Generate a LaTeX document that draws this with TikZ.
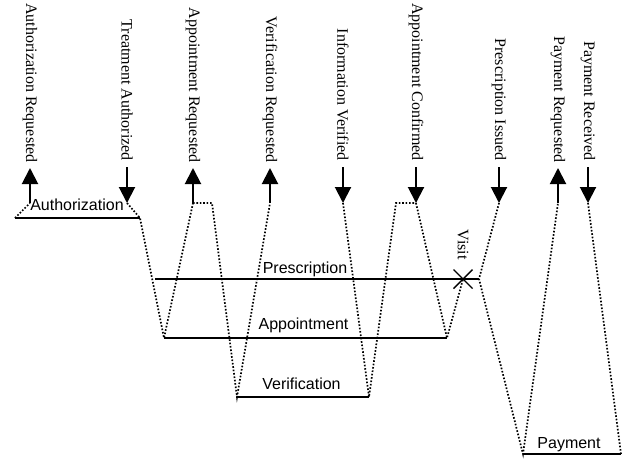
\documentclass[tikz,border=0pt]{standalone}
\usepackage{fontspec}
\setmainfont{Liberation Serif}
\setsansfont{Liberation Sans}
\usetikzlibrary{arrows.meta}

\begin{document}
\begin{tikzpicture}[x=1pt,y=-1pt,
        evlabel/.style={rotate=-90,anchor=east,inner sep=0pt,font=\fontsize{16}{19}\selectfont},
        evarrow/.style={line width=2pt,-{Triangle[width=16pt,length=16pt]}},
        bar/.style={line width=1.8pt},
        link/.style={line width=1.7pt,dash pattern=on 1.6pt off 1.8pt},
        barlabel/.style={anchor=base,inner sep=0pt,font=\sffamily\fontsize{16}{19}\selectfont}]
        \useasboundingbox (0,0) rectangle (623,459);
        % events going up
        \foreach \x/\id/\txt in {30/aureq/Authorization Requested,193/apreq/Appointment Requested,
            270/vreq/Verification Requested,558/pyreq/Payment Requested}
        {
            \node[evlabel] (\id) at (\x,163) {\txt};
            \coordinate (\id-p) at (\x,203);
            \coordinate (\id-t) at (\x,168);
            \draw[evarrow] (\id-p) -- (\id-t);
        }
        % events going down
        \foreach \x/\id/\txt in {127/trauth/Treatment Authorized,343/infver/Information Verified,
            416/apconf/Appointment Confirmed,499/prissue/Prescription Issued,588/pyrec/Payment Received}
        {
            \node[evlabel] (\id) at (\x,161) {\txt};
            \coordinate (\id-p) at (\x,203);
            \coordinate (\id-t) at (\x,167);
            \draw[evarrow] (\id-t) -- (\id-p);
        }
        % bars
        \draw[bar] (15,218) coordinate (auth-l) -- (140,218) coordinate (auth-r);
        \draw[bar,line width=1.4pt] (155,279) coordinate (presc-l) -- (479,279) coordinate (presc-r);
        \draw[bar] (164,338) coordinate (appt-l) -- (447,338) coordinate (appt-r);
        \draw[bar] (237,397) coordinate (verif-l) -- (369,397) coordinate (verif-r);
        \draw[bar] (523,454) coordinate (pay-l) -- (621,454) coordinate (pay-r);
        \node[barlabel] (authlbl) at (77,210) {Authorization};
        \node[barlabel] (presclbl) at (305,273) {Prescription};
        \node[barlabel] (apptlbl) at (303.5,329) {Appointment};
        \node[barlabel] (veriflbl) at (301.5,389) {Verification};
        \node[barlabel] (paylbl) at (569,448) {Payment};
        % visit
        \coordinate (visit) at (463,279);
        \draw[line width=1.4pt] (visit) ++(-9.5,-9.5) -- ++(19,19) ++(0,-19) -- ++(-19,19);
        \node[evlabel] (visitlbl) at (463,260) {Visit};
        % links
        \draw[link] (auth-l) -- (aureq-p);
        \draw[link] (trauth-p) -- (auth-r) -- (appt-l) -- (apreq-p);
        \draw[link] (apreq-p) -- (212,203) coordinate (apreq-k) -- (verif-l) -- (vreq-p);
        \draw[link] (infver-p) -- (verif-r) -- (396,203) coordinate (apconf-k) -- (apconf-p);
        \draw[link] (apconf-p) -- (appt-r) -- (visit);
        \draw[link] (prissue-p) -- (presc-r) -- (pay-l) -- (pyreq-p);
        \draw[link] (pay-r) -- (pyrec-p);
\end{tikzpicture}
\end{document}
